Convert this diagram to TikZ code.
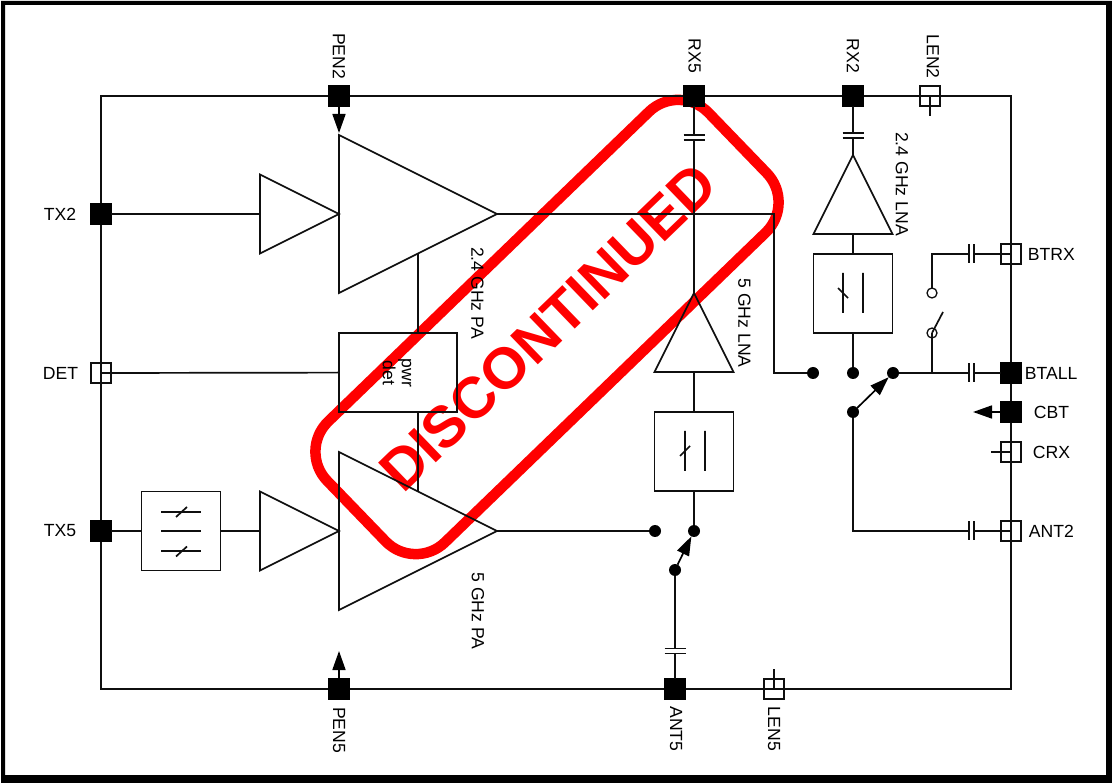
\documentclass[tikz,border=0pt]{standalone}
\usepackage{fontspec}
\setmainfont{Liberation Sans}
\usepackage{xcolor}
\usetikzlibrary{shapes.geometric, arrows.meta, positioning}
\definecolor{stamp}{RGB}{255,0,0}
\definecolor{wire}{RGB}{15,15,15}

\begin{document}
\begin{tikzpicture}[x=1pt, y=-1pt, line width=1.7pt, >={Triangle[length=19pt, width=13pt]}, node distance=40pt]
  \tikzstyle{pinfull} = [rectangle, draw=black, fill=black, minimum size=20pt, inner sep=0pt, outer sep=0pt]
  \tikzstyle{pinopen} = [rectangle, draw=wire, line width=1.3pt, minimum size=20pt, inner sep=0pt, outer sep=0pt]
  \tikzstyle{pinname} = [inner sep=0pt, font=\fontsize{17.6}{19}\selectfont]
  \tikzstyle{sidename} = [pinname, rotate=-90]
  \tikzstyle{filterbox} = [rectangle, draw=wire, minimum size=79pt, inner sep=0pt, outer sep=0pt]
  \tikzstyle{amp} = [isosceles triangle, draw=wire, isosceles triangle stretches, inner sep=0pt, outer sep=0pt]
  \tikzstyle{bigamp} = [amp, minimum width=158pt, minimum height=158pt]
  \tikzstyle{smallamp} = [amp, minimum width=79pt, minimum height=79pt]
  \tikzstyle{dot} = [circle, fill=black, minimum size=12pt, inner sep=0pt, outer sep=0pt]
  \tikzstyle{opendot} = [circle, draw=wire, line width=1.3pt, minimum size=10pt, inner sep=0pt, outer sep=0pt]
  \tikzstyle{capv} = [minimum width=21pt, minimum height=5pt, inner sep=0pt, outer sep=0pt]
  \tikzstyle{caph} = [minimum width=5pt, minimum height=19pt, inner sep=0pt, outer sep=0pt]

  \useasboundingbox (0,0) rectangle (1112,783);
  \fill[white] (0,0) rectangle (1112,783);
  \fill[black, even odd rule] (1,1) rectangle (1112,783) (5,5) rectangle (1106,775);

  \node [rectangle, draw=stamp, line width=10.5pt, rounded corners=42pt, rotate=44, minimum width=530pt, minimum height=168pt] (stampbox) at (547,327) {};
  \node [text=stamp, rotate=44, inner sep=0pt, font=\fontsize{58}{60}\selectfont\bfseries] (stamptext) at (548,327) {DISCONTINUED};

  \node [draw=wire, minimum width=910pt, minimum height=593pt, inner sep=0pt, outer sep=0pt] (chip) at (556,392.5) {};

  \node [pinfull] (pen2) at (339,96) {};
  \node [pinfull] (rx5) at (694,96) {};
  \node [pinfull] (rx2) at (853,96) {};
  \node [pinopen] (len2) at (930,96) {};
  \node [pinfull] (tx2) at (101,214) {};
  \node [pinopen] (det) at (101,373) {};
  \node [pinfull] (tx5) at (101,531) {};
  \node [pinopen] (btrx) at (1011,254) {};
  \node [pinfull] (btall) at (1011,373) {};
  \node [pinfull] (cbt) at (1011,412) {};
  \node [pinopen] (crx) at (1011,452) {};
  \node [pinopen] (ant2) at (1011,531) {};
  \node [pinfull] (pen5) at (339,689) {};
  \node [pinfull] (ant5) at (675,689) {};
  \node [pinopen] (len5) at (774,689) {};

  \node [pinname, left=14pt of tx2] (tx2name) {TX2};
  \node [pinname, left=12pt of det] (detname) {DET};
  \node [pinname, left=14pt of tx5] (tx5name) {TX5};
  \node [pinname, right=6pt of btrx] (btrxname) {BTRX};
  \node [pinname, right=3pt of btall] (btallname) {BTALL};
  \node [pinname, right=12pt of cbt] (cbtname) {CBT};
  \node [pinname, right=11pt of crx] (crxname) {CRX};
  \node [pinname, right=7pt of ant2] (ant2name) {ANT2};
  \node [sidename] (pen2name) at (339,56) {PEN2};
  \node [sidename] (rx5name) at (694.5,56) {RX5};
  \node [sidename] (rx2name) at (853,56) {RX2};
  \node [sidename] (len2name) at (933,56.5) {LEN2};
  \node [sidename] (pen5name) at (339,730) {PEN5};
  \node [sidename] (ant5name) at (676,729) {ANT5};
  \node [sidename] (len5name) at (774,729) {LEN5};

  \node [bigamp, anchor=apex] (pa24) at (497,214) {};
  \node [bigamp, anchor=apex] (pa5) at (497,531) {};
  \node [smallamp, anchor=apex] (drv24) at (339,214) {};
  \node [smallamp, anchor=apex] (drv5) at (339,531) {};
  \node [smallamp, shape border rotate=90, anchor=apex] (lna5) at (694,293) {};
  \node [smallamp, shape border rotate=90, anchor=apex] (lna24) at (853,155) {};
  \node [sidename] (pa24name) at (477.5,293) {2.4 GHz PA};
  \node [sidename] (pa5name) at (478,611) {5 GHz PA};
  \node [sidename] (lna5name) at (744.5,323) {5 GHz LNA};
  \node [sidename] (lna24name) at (902,184) {2.4 GHz LNA};

  \node [filterbox, below=40pt of lna5.lower side] (flt5) {};
  \node [filterbox, below=20pt of lna24.lower side] (flt24) {};
  \node [filterbox] (flttx) at (181,531) {};
  \node [rectangle, draw=wire, minimum width=118pt, minimum height=79pt, inner sep=0pt, outer sep=0pt] (pwrdet) at (398,372.5) {};
  \node [pinname, rotate=-90, align=center] (pwrname) at (397,373) {pwr\\det};

  \draw[wire] (685,431) -- (685,471) (705,431) -- (705,471) (680,456) -- (690,446);
  \draw[wire] (843,273) -- (843,313) (863,273) -- (863,313) (838,288) -- (848,298);
  \draw[wire] (161,512) -- (201,512) (161,531) -- (201,531) (161,551) -- (201,551);
  \draw[wire] (176,517) -- (187,507) (176,556.5) -- (187,546.5);

  \node [dot] (sw5a) at (655,531) {};
  \node [dot] (sw5b) at (694,531) {};
  \node [dot] (sw5c) at (675,570) {};
  \node [dot] (sw24a) at (813,373) {};
  \node [dot] (sw24b) at (853,373) {};
  \node [dot] (sw24c) at (893,373) {};
  \node [dot] (sw24d) at (853,412) {};
  \node [opendot] (btlow) at (932,333) {};
  \node [opendot] (btup) at (932,293) {};

  \node [capv] (caprx5) at (694,137.5) {};
  \node [capv] (caprx2) at (853,135.5) {};
  \node [capv] (capant5) at (675,651) {};
  \node [caph] (capbtrx) at (971.5,254) {};
  \node [caph] (capbtall) at (971.5,373) {};
  \node [caph] (capant2) at (971.5,531) {};

  \coordinate (len2stub) at (930,116);
  \coordinate (crxstub) at (991,452);
  \coordinate (len5stub) at (774,669);
  \coordinate (pen2tip) at (339,133);
  \coordinate (pen5tip) at (339,651);
  \coordinate (cbttip) at (973,412);
  \coordinate (bend24) at (774,214);
  \coordinate (btnode) at (932,373);
  \coordinate (btbend) at (932,254);
  \coordinate (antbend) at (853,531);
  \coordinate (bladeend) at (943,312);

  \draw[wire] (caprx5.north west) -- (caprx5.north east);
  \draw[wire] (caprx5.south west) -- (caprx5.south east);
  \draw[wire] (caprx2.north west) -- (caprx2.north east);
  \draw[wire] (caprx2.south west) -- (caprx2.south east);
  \draw[wire] (capant5.north west) -- (capant5.north east);
  \draw[wire] (capant5.south west) -- (capant5.south east);
  \draw[wire] (capbtrx.north west) -- (capbtrx.south west);
  \draw[wire] (capbtrx.north east) -- (capbtrx.south east);
  \draw[wire] (capbtall.north west) -- (capbtall.south west);
  \draw[wire] (capbtall.north east) -- (capbtall.south east);
  \draw[wire] (capant2.north west) -- (capant2.south west);
  \draw[wire] (capant2.north east) -- (capant2.south east);

  \draw[wire] (len2.center) -- (len2stub);
  \draw[wire] (crx.center) -- (crxstub);
  \draw[wire] (len5.center) -- (len5stub);
  \draw[->, black] (pen2) -- (pen2tip);
  \draw[->, black] (pen5) -- (pen5tip);
  \draw[->, black] (cbt) -- (cbttip);

  \draw[wire] (tx2) -- (drv24.lower side);
  \draw[wire] (tx5) -- (flttx);
  \draw[wire] (flttx) -- (drv5.lower side);
  \draw[wire] (det.center) -- (pwrdet);
  \draw[wire] (pa24.right side) -- (pa24.right side |- pwrdet.north);
  \draw[wire] (pwrdet.south -| pa24.right side) -- (pa5.left side);
  \draw[wire] (pa24.apex) -- (bend24) |- (sw24a);
  \draw[wire] (pa5.apex) -- (sw5a);
  \draw[wire] (rx5) -- (caprx5.north);
  \draw[wire] (caprx5.south) -- (lna5.apex);
  \draw[wire] (lna5.lower side) -- (flt5);
  \draw[wire] (flt5) -- (sw5b);
  \draw[->, black] (sw5c) -- (sw5b);
  \draw[wire] (sw5c) -- (capant5.north);
  \draw[wire] (capant5.south) -- (ant5);
  \draw[wire] (rx2) -- (caprx2.north);
  \draw[wire] (caprx2.south) -- (lna24.apex);
  \draw[wire] (lna24.lower side) -- (flt24);
  \draw[wire] (flt24) -- (sw24b);
  \draw[->, black] (sw24d) -- (sw24c);
  \draw[wire] (sw24c) -- (capbtall.west);
  \draw[wire] (capbtall.east) -- (btall);
  \draw[wire] (btnode) -- (btlow.center);
  \draw[wire] (btlow.center) -- (bladeend);
  \draw[wire] (btup) -- (btbend) -- (capbtrx.west);
  \draw[wire] (capbtrx.east) -- (btrx.center);
  \draw[wire] (sw24d) -- (antbend) -- (capant2.west);
  \draw[wire] (capant2.east) -- (ant2.center);
\end{tikzpicture}
\end{document}
